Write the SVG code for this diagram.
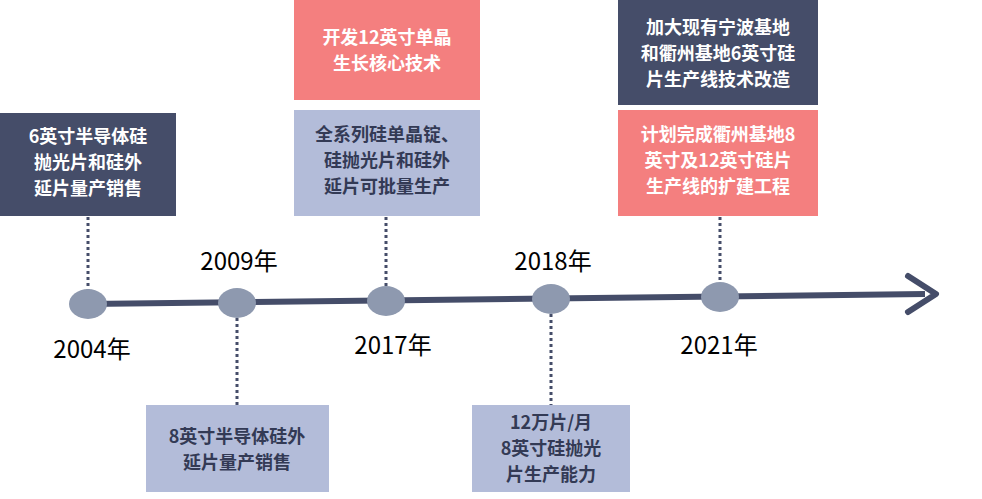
<svg xmlns="http://www.w3.org/2000/svg" width="982" height="499" viewBox="0 0 982 499">
<style>
.dark{fill:#454d69}.light{fill:#b3bcd9}.pink{fill:#f47f7f}
.wt{fill:#fff;font-family:"Noto Sans CJK SC","Liberation Sans",sans-serif;font-size:18px;font-weight:bold;text-anchor:middle}
.bt{fill:#333a55;font-family:"Noto Sans CJK SC","Liberation Sans",sans-serif;font-size:18px;font-weight:bold;text-anchor:middle}
.yr{fill:#000;font-family:"Noto Sans CJK SC","Liberation Sans",sans-serif;font-size:24px;text-anchor:middle}
.dot{stroke:#454d69;stroke-width:3;stroke-dasharray:3 3;fill:none}
.c{fill:#8e99af}
</style>
<g id="connectors">
<line x1="88" y1="304" x2="925" y2="294" stroke="#454d69" stroke-width="6"/>
<polyline points="908,276 936,294 908,312" stroke="#454d69" stroke-width="6" fill="none" stroke-linecap="round" stroke-linejoin="round"/>
<line class="dot" x1="88" y1="217" x2="88" y2="290"/>
<line class="dot" x1="237" y1="318" x2="237" y2="405"/>
<line class="dot" x1="386" y1="217" x2="386" y2="286"/>
<line class="dot" x1="551" y1="314" x2="551" y2="405"/>
<line class="dot" x1="720" y1="217" x2="720" y2="282"/>
</g>
<g id="points">
<ellipse class="c" cx="88" cy="304" rx="19" ry="15"/>
<ellipse class="c" cx="237" cy="303" rx="19" ry="15"/>
<ellipse class="c" cx="386" cy="301" rx="19" ry="15"/>
<ellipse class="c" cx="551" cy="299" rx="19" ry="15"/>
<ellipse class="c" cx="720" cy="297" rx="19" ry="15"/>
</g>
<g id="years">
<text class="yr" x="92" y="358">2004年</text>
<text class="yr" x="239" y="270">2009年</text>
<text class="yr" x="393" y="354">2017年</text>
<text class="yr" x="553" y="270">2018年</text>
<text class="yr" x="719" y="354">2021年</text>
</g>
<g id="n1"><rect class="dark" x="0" y="113" width="176" height="103"/>
<text class="wt" x="88" y="143">6英寸半导体硅</text><text class="wt" x="88" y="169">抛光片和硅外</text><text class="wt" x="88" y="195">延片量产销售</text></g>
<g id="n2"><rect class="light" x="146" y="405" width="183" height="87"/>
<text class="bt" x="237" y="443">8英寸半导体硅外</text><text class="bt" x="237" y="469">延片量产销售</text></g>
<g id="n3"><rect class="pink" x="294" y="0" width="186" height="100"/>
<text class="wt" x="387" y="44">开发12英寸单晶</text><text class="wt" x="387" y="70">生长核心技术</text></g>
<g id="n4"><rect class="light" x="294" y="110" width="186" height="106"/>
<text class="bt" x="387" y="141">全系列硅单晶锭、</text><text class="bt" x="387" y="167">硅抛光片和硅外</text><text class="bt" x="387" y="193">延片可批量生产</text></g>
<g id="n5"><rect class="light" x="472" y="405" width="158" height="87"/>
<text class="bt" x="551" y="429">12万片/月</text><text class="bt" x="551" y="455">8英寸硅抛光</text><text class="bt" x="551" y="481">片生产能力</text></g>
<g id="n6"><rect class="dark" x="618" y="0" width="200" height="105"/>
<text class="wt" x="718" y="34">加大现有宁波基地</text><text class="wt" x="718" y="60">和衢州基地6英寸硅</text><text class="wt" x="718" y="86">片生产线技术改造</text></g>
<g id="n7"><rect class="pink" x="618" y="110" width="200" height="106"/>
<text class="wt" x="718" y="141">计划完成衢州基地8</text><text class="wt" x="718" y="167">英寸及12英寸硅片</text><text class="wt" x="718" y="193">生产线的扩建工程</text></g>
</svg>
